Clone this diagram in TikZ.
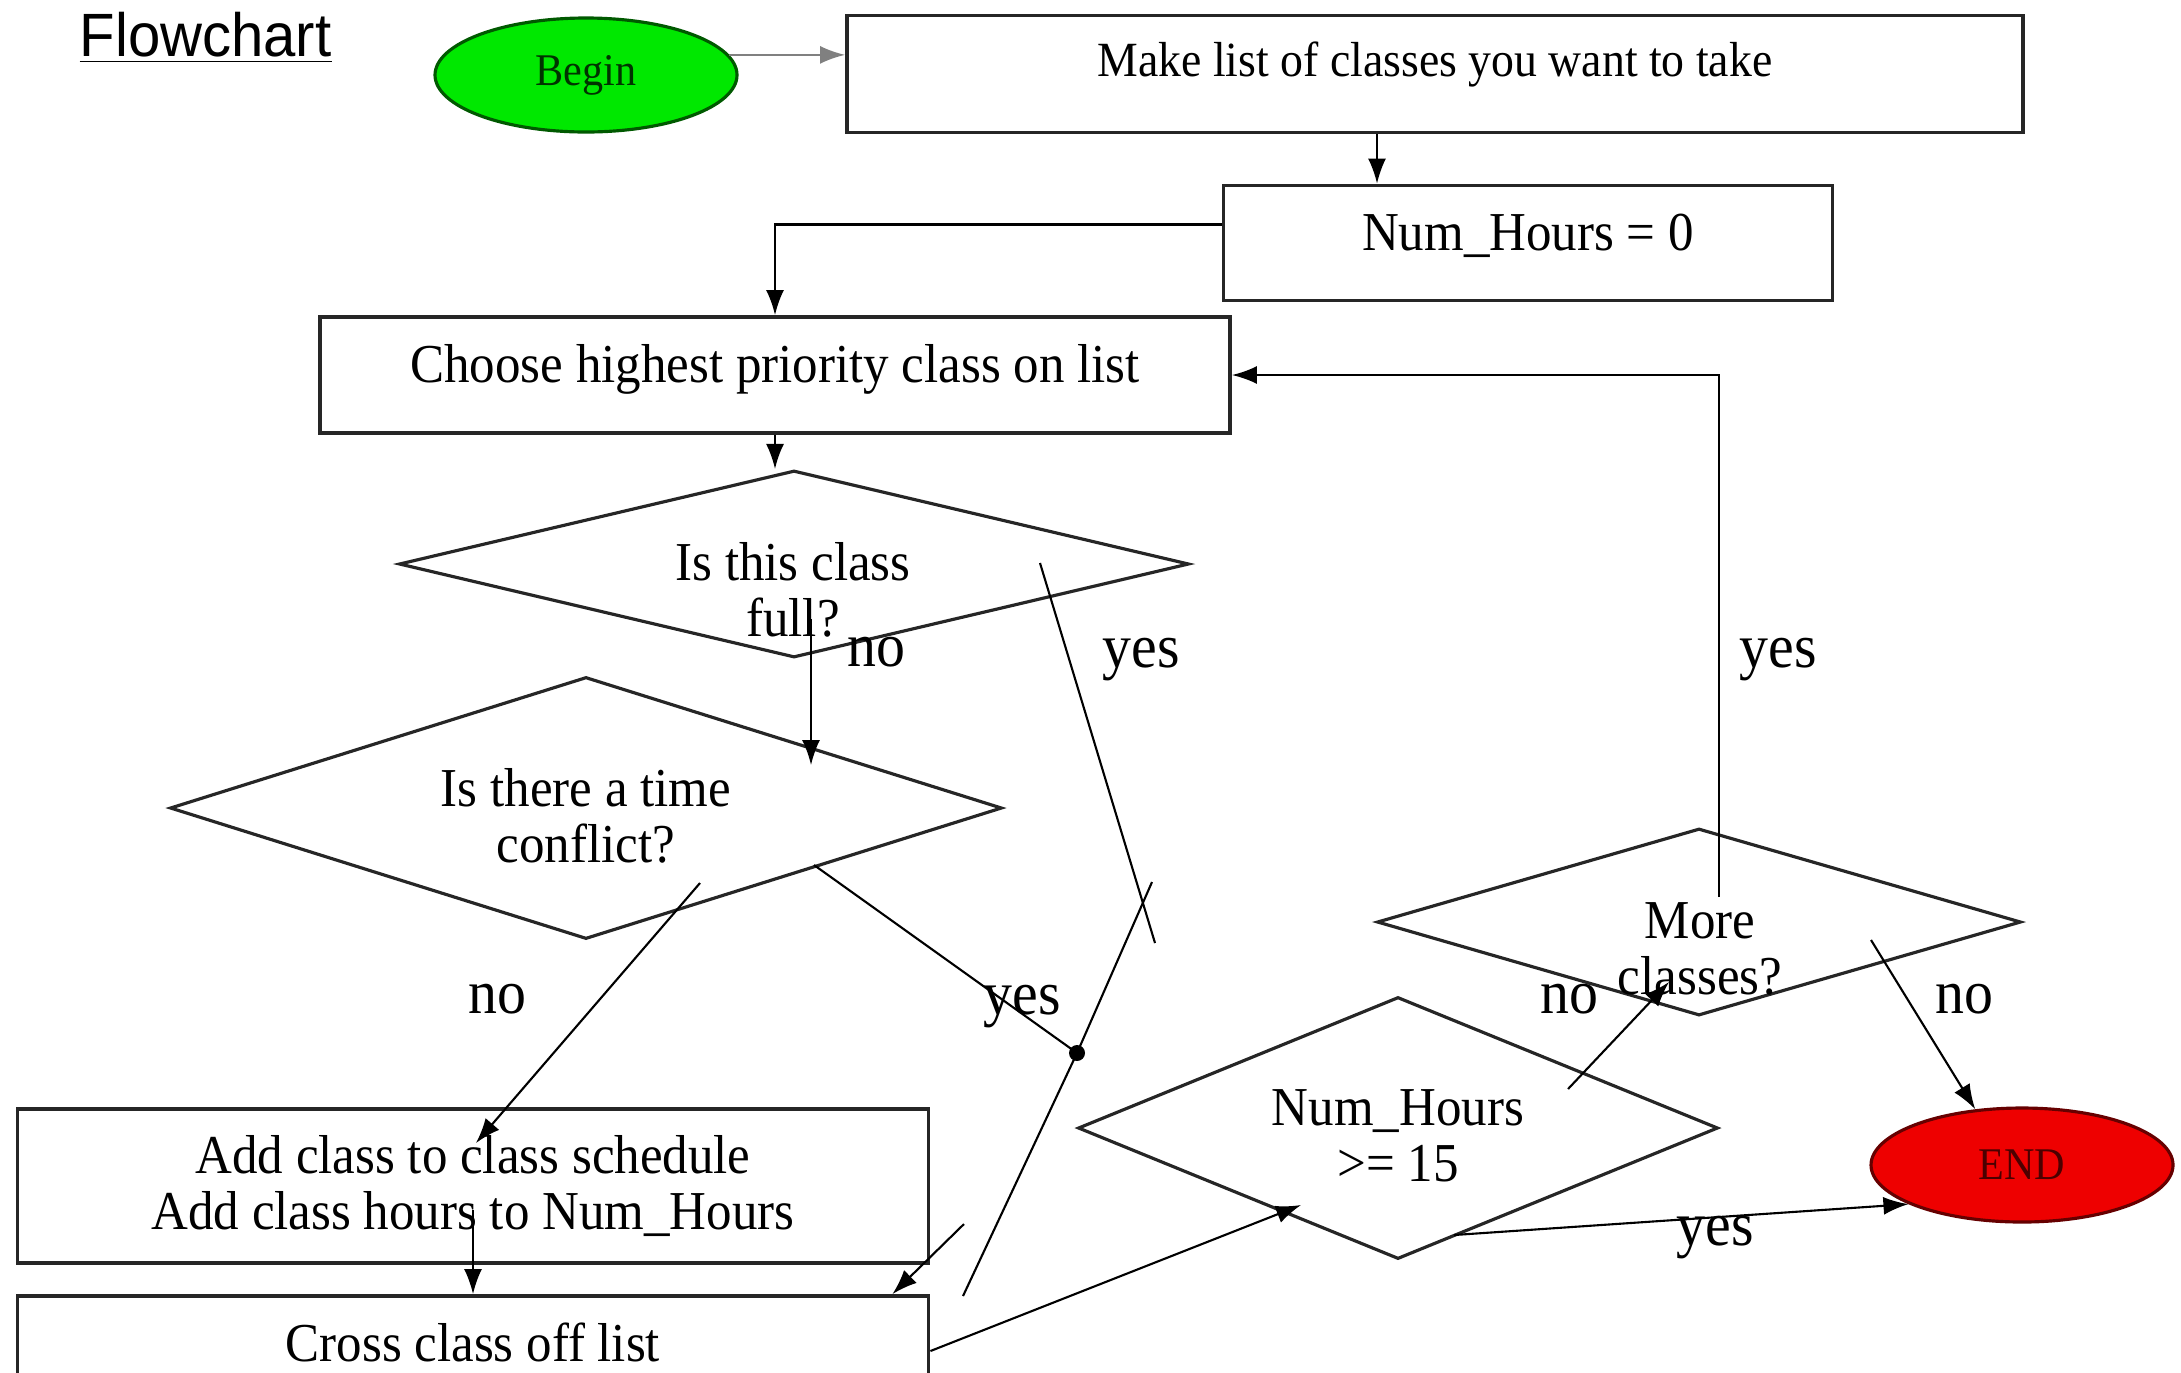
\documentclass[tikz,border=0pt]{standalone}
\usepackage{fontspec}
\setmainfont{Liberation Serif}[FakeStretch=0.93]
\newfontfamily\titlefont{Liberation Sans}[FakeStretch=0.95]
\usepackage{tikz}
\usetikzlibrary{arrows,arrows.meta,shapes}
\definecolor{startgreen}{RGB}{0,232,0}
\definecolor{stopred}{RGB}{238,0,0}
\newcommand{\lift}[2]{\raisebox{#1}[\height][\depth]{#2}}
\tikzstyle{process}=[rectangle,draw=black!85,line width=1.1pt,inner sep=0pt,align=center,font=\fontsize{15.6}{16}\selectfont]
\tikzstyle{decision}=[diamond,draw=black!85,line width=0.9pt,inner sep=0pt]
\tikzstyle{qtext}=[align=center,inner sep=0pt,font=\fontsize{15.6}{16}\selectfont]
\tikzstyle{terminal}=[ellipse,line width=0.9pt,inner sep=0pt,minimum width=30.2mm,minimum height=11.4mm,font=\fontsize{12.9}{14}\selectfont]
\tikzstyle{edge} = [draw,line width=0.6pt,->,>={Latex[length=2.5mm,width=1.8mm]}]
\tikzstyle{lbl}=[inner sep=0pt,font=\fontsize{17.7}{18}\selectfont]

\begin{document}
\begin{tikzpicture}[x=0.1mm,y=-0.1mm]
      \useasboundingbox (0,0) rectangle (2181,1372);
      \node[anchor=base west,inner sep=0pt,font=\titlefont\fontsize{17.4}{18}\selectfont] (title) at (79,56) {\underline{Flowchart}};
      % boxes and terminals
      \node[terminal,fill=startgreen,draw=green!35!black,text=green!20!black] (begin) at (586,75) {Begin};
      \node[process,minimum width=117.6mm,minimum height=11.7mm,font=\fontsize{14}{15}\selectfont] (make) at (1435,74) {\lift{1mm}{Make list of classes you want to take}};
      \node[process,minimum width=60.9mm,minimum height=11.5mm] (num) at (1528,243) {\lift{0.75mm}{Num\_Hours = 0}};
      \node[process,minimum width=91mm,minimum height=11.6mm] (choose) at (775,375) {\lift{0.6mm}{Choose highest priority class on list}};
      \node[decision,minimum width=79mm,minimum height=18.7mm] (full) at (794,564) {};
      \node[qtext] (fulltxt) at (793,590) {Is this class\\full?};
      \node[decision,minimum width=83.2mm,minimum height=26.2mm] (conflict) at (586,808) {};
      \node[qtext] (conflicttxt) at (586,816) {Is there a time\\conflict?};
      \node[process,minimum width=91.1mm,minimum height=15.4mm] (add) at (473,1186) {Add class to class schedule\\Add class hours to Num\_Hours};
      \node[process,minimum width=91.1mm,minimum height=11mm] (cross) at (473,1351) {\lift{0.9mm}{Cross class off list}};
      \node[decision,minimum width=64mm,minimum height=26.2mm] (hours) at (1398,1128) {};
      \node[qtext] (hourstxt) at (1398,1136) {Num\_Hours\\>= 15};
      \node[decision,minimum width=64.4mm,minimum height=18.7mm] (more) at (1699,922) {};
      \node[qtext] (moretxt) at (1700,949) {More\\classes?};
      \node[terminal,fill=stopred,draw=red!40!black,text=red!30!black] (end) at (2022,1165) {END};
      % free ends of the crooked connectors
      \coordinate (fullno) at (811,619);
      \coordinate (conflictin) at (811,765);
      \coordinate (fullyes) at (1040,563);
      \coordinate (fullyesend) at (1155,943);
      \coordinate (crosstop) at (1152,882);
      \coordinate (crossbot) at (963,1296);
      \coordinate (joint) at (1077,1053);
      \coordinate (conflictyes) at (814,865);
      \coordinate (backstart) at (964,1224);
      \coordinate (conflictno) at (700,883);
      \coordinate (addin) at (476,1143);
      \coordinate (hoursin) at (1301,1205);
      \coordinate (hoursyes) at (1454,1235);
      \coordinate (hoursno) at (1568,1089);
      \coordinate (morein) at (1669,982);
      \coordinate (moreno) at (1871,940);
      \coordinate (moreyes) at (1719,897);
      % connectors
      \draw[edge,draw=black!50] (begin.8) to (begin.8 -| make.west);
      \draw[edge] ([xshift=-5.8mm]make.south) to ([xshift=-5.8mm]make.south |- num.north);
      \draw[edge] ([yshift=1.85mm]num.west) -| (choose.north);
      \draw[edge] (choose.south) to (choose.south |- full.north);
      \draw[edge] (fullno) to (conflictin);
      \draw[line width=0.6pt] (fullyes) -- (fullyesend);
      \draw[line width=0.6pt] (crosstop) -- (joint) -- (crossbot);
      \draw[line width=0.6pt] (conflictyes) -- (joint);
      \fill (joint) circle (0.8mm);
      \draw[edge] (backstart) to ([xshift=-3.8mm]cross.north east);
      \draw[edge] (conflictno) to (addin);
      \draw[edge] ([yshift=-2.4mm]add.center) to (cross.north);
      \draw[edge] (cross.east) to (hoursin);
      \draw[edge] (hoursyes) to (end.199);
      \draw[edge] (hoursno) to (morein);
      \draw[edge] (moreno) to (end.130);
      \draw[edge] (moreyes) |- (choose.east);
      % branch labels
      \node[lbl] (l1) at (876,652) {no};
      \node[lbl] (l2) at (1141,660) {yes};
      \node[lbl] (l3) at (1778,660) {yes};
      \node[lbl] (l4) at (497,999) {no};
      \node[lbl] (l5) at (1022,1007) {yes};
      \node[lbl] (l6) at (1569,999) {no};
      \node[lbl] (l7) at (1964,999) {no};
      \node[lbl] (l8) at (1715,1238) {yes};
  \end{tikzpicture}
\end{document}
